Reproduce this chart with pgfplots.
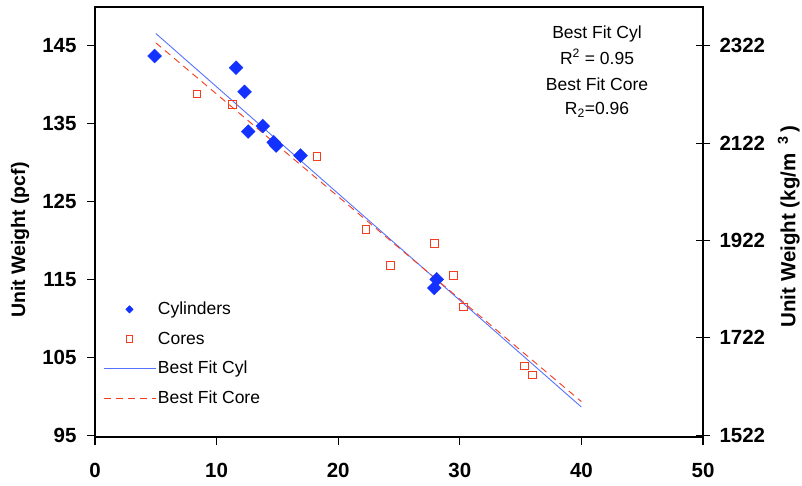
\documentclass[border=0pt]{standalone}
\usepackage{fontspec}
\setmainfont{Liberation Sans}
\usepackage{pgfplots}
\pgfplotsset{compat=1.18}
\definecolor{cylblue}{RGB}{20,50,255}
\definecolor{linblue}{RGB}{85,115,255}
\definecolor{corered}{RGB}{245,60,30}
\newcommand{\tickfont}{\fontsize{20.5}{24}\selectfont\bfseries}
\newcommand{\labfont}{\fontsize{19.5}{22}\selectfont\bfseries}
\newcommand{\rlabfont}{\fontsize{20.5}{23}\selectfont\bfseries}
\newcommand{\txtfont}{\fontsize{17.5}{21}\selectfont}
\pgfplotsset{
  legmark/.style={legend image code/.code={\draw[mark repeat=2,mark phase=2,##1, mark size=#1] plot coordinates {(0pt,0pt) (26pt,0pt) (52pt,0pt)};}},
  legline/.style={legend image code/.code={\draw[##1] (0pt,0pt) -- (52pt,0pt);}},
}
\begin{document}
\begin{tikzpicture}
\useasboundingbox (-95pt,-48pt) rectangle (707pt,437pt);
\begin{axis}[
  at={(0pt,0pt)}, anchor=south west,
  scale only axis, width=608pt, height=430pt,
  xmin=0, xmax=50, ymin=94.75, ymax=150,
  xtick={0,10,...,50}, ytick={95,105,...,145},
  xtick pos=lower, ytick pos=left,
  tick align=outside, major tick length=8pt, minor tick num=0,
  axis line style={line width=1.3pt},
  every tick/.style={black, line width=1.1pt},
  ticklabel style={font=\tickfont},
  xticklabel style={yshift=-15pt},
  yticklabel style={xshift=-7pt},
  /pgf/number format/assume math mode=true,
  /pgf/number format/1000 sep={},
  ylabel={Unit Weight (pcf)},
  ylabel style={font=\labfont, at={(rel axis cs:-0.123,0.458)}, anchor=center, rotate=0},
  legend style={at={(rel axis cs:0.008,0.323)}, anchor=north west, draw=none, fill=none,
    font=\txtfont, row sep=11.5pt, nodes={inner sep=2pt}},
  legend cell align=left,
]
\addplot[only marks, mark=square*, mark size=4.9pt, mark options={rotate=45, fill=cylblue, draw=cylblue}, legmark=2.6pt]
  coordinates {(4.9,143.7) (11.6,142.2) (12.3,139.1) (12.6,134.0) (13.8,134.7) (14.7,132.6) (14.9,132.2) (16.9,130.9) (28.1,115.0) (27.9,113.9)};
\addlegendentry{Cylinders}
\addplot[only marks, mark=square, mark size=3.8pt, mark options={draw=corered, line width=1pt}, legmark=3.2pt]
  coordinates {(8.4,138.8) (11.3,137.5) (18.25,130.8) (22.3,121.4) (24.3,116.8) (27.9,119.65) (29.5,115.5) (30.3,111.45) (35.3,103.85) (36.0,102.7)};
\addlegendentry{Cores}
\addplot[linblue, line width=0.9pt, no marks, legline]
  coordinates {(5,146.6) (40,98.6)};
\addlegendentry{Best Fit Cyl}
\addplot[corered, line width=0.9pt, no marks, dash pattern=on 7pt off 5pt, legline]
  coordinates {(5,145.4) (40,99.3)};
\addlegendentry{Best Fit Core}
\node[anchor=base, font=\txtfont] at (rel axis cs:0.8257,0.927) {Best Fit Cyl};
\node[anchor=base, font=\txtfont] at (rel axis cs:0.8257,0.867) {R\textsuperscript{2} = 0.95};
\node[anchor=base, font=\txtfont] at (rel axis cs:0.8257,0.806) {Best Fit Core};
\node[anchor=base, font=\txtfont] at (rel axis cs:0.8257,0.749) {R\textsubscript{2}=0.96};
\end{axis}
\begin{axis}[
  at={(0pt,0pt)}, anchor=south west,
  scale only axis, width=608pt, height=430pt,
  xmin=0, xmax=50, ymin=1518, ymax=2402,
  axis x line=none, axis y line*=right,
  ytick={1522,1722,...,2322},
  tick align=center, major tick length=14pt, minor tick num=0,
  axis line style={line width=1.3pt},
  every tick/.style={black, line width=1.1pt},
  ticklabel style={font=\tickfont},
  yticklabel style={xshift=6pt},
  /pgf/number format/assume math mode=true,
  /pgf/number format/1000 sep={},
  ylabel={Unit Weight (kg/m\hspace{9pt}\textsuperscript{3}\hspace{4pt})},
  ylabel style={font=\rlabfont, at={(rel axis cs:1.141,0.49)}, anchor=center, rotate=0},
]
\addplot[draw=none, forget plot] coordinates {(0,1600)};
\end{axis}
\end{tikzpicture}
\end{document}
